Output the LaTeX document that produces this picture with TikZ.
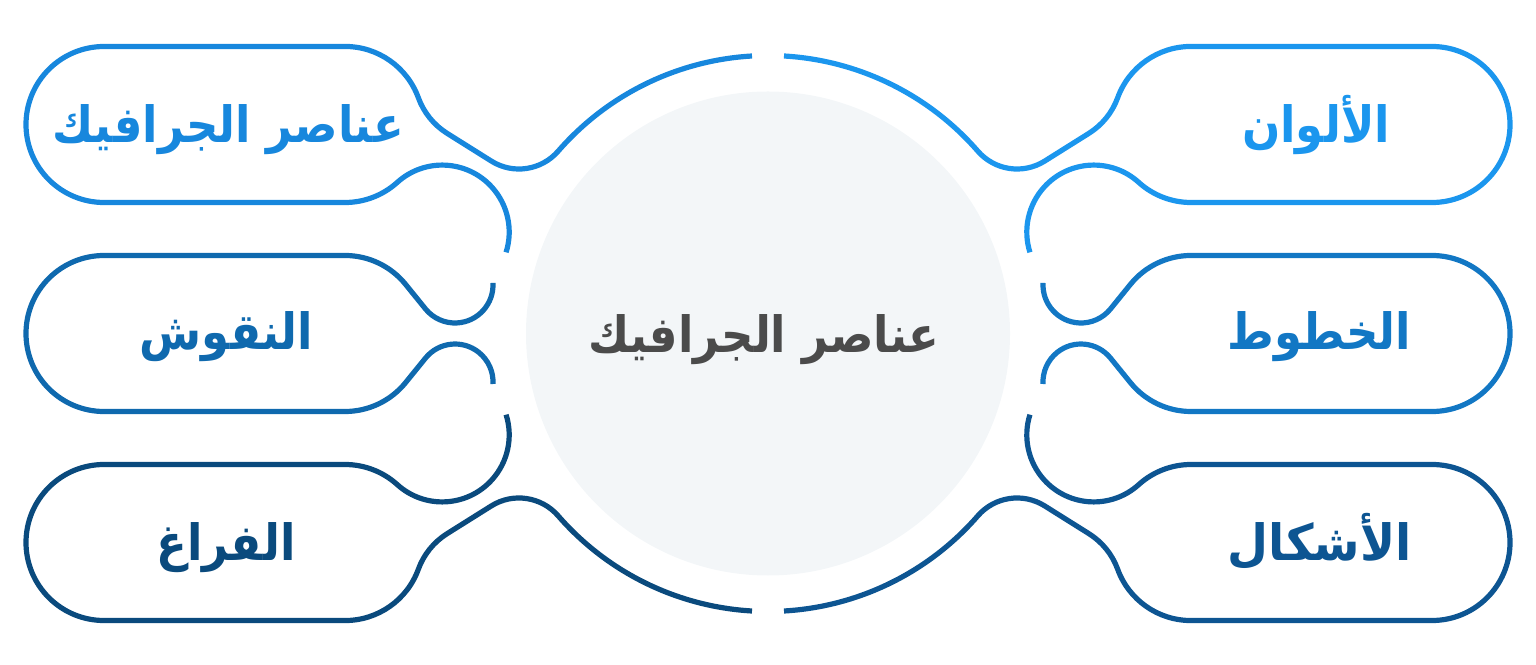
\documentclass[tikz,border=0pt]{standalone}
\usepackage{fontspec}
\newfontfamily\arabicfont[Script=Arabic]{DejaVu Sans}
\TeXXeTstate=1
\definecolor{cLa}{HTML}{1787DD}
\definecolor{cLb}{HTML}{0F69AE}
\definecolor{cLc}{HTML}{0A4A7D}
\definecolor{cRa}{HTML}{1B96EE}
\definecolor{cRb}{HTML}{1277C4}
\definecolor{cRc}{HTML}{0D5592}
\definecolor{circfill}{HTML}{F3F6F8}
\definecolor{centertext}{HTML}{4B4B4B}
\newcommand{\pillOnePath}{%
  (-16.0,277.5) arc[start angle=93.3,end angle=139,radius=278]
  arc[start angle=319,end angle=238,radius=52]
  -- (-320.8,200.1) arc[start angle=238,end angle=200,radius=70.4]
  arc[start angle=20,end angle=90,radius=78]
  -- (-664,287) arc[start angle=90,end angle=270,radius=78]
  -- (-423,131) arc[start angle=-90,end angle=-47.9,radius=78]
  arc[start angle=132.1,end angle=-17.6,radius=67]}
\newcommand{\pillTwoPath}{%
  (-275.05,50.5) arc[start angle=363,end angle=219,radius=38]
  -- (-362.4,49.1) arc[start angle=39,end angle=90,radius=78]
  -- (-664,78) arc[start angle=90,end angle=270,radius=78]
  -- (-423,-78) arc[start angle=-90,end angle=-39,radius=78]
  -- (-342.5,-24.6) arc[start angle=141,end angle=-3,radius=38]}
\tikzset{
  outline/.style={line width=2.6pt},
  label/.style={font=\arabicfont\bfseries\fontsize{25}{29}\selectfont, anchor=base, inner sep=0pt, xscale=0.9},
}
\begin{document}
\begin{tikzpicture}[x=0.5pt,y=0.5pt]
\useasboundingbox (0,0) rectangle (1536,664);
\fill[circfill] (768,330.5) circle[radius=242];
\begin{scope}[shift={(768,330.5)}]
  \draw[outline,cLa] \pillOnePath;
  \draw[outline,cLb] \pillTwoPath;
  \begin{scope}[yscale=-1]
    \draw[outline,cLc] \pillOnePath;
  \end{scope}
  \begin{scope}[xscale=-1]
    \draw[outline,cRa] \pillOnePath;
    \draw[outline,cRb] \pillTwoPath;
    \begin{scope}[yscale=-1]
      \draw[outline,cRc] \pillOnePath;
    \end{scope}
  \end{scope}
\end{scope}
\node[label,text=cLa] (l1) at (228.5,521) {\beginR عناصر الجرافيك\endR};
\node[label,text=cLb] (l2) at (226.5,314) {\beginR النقوش\endR};
\node[label,text=cLc] (l3) at (226,104) {\beginR الفراغ\endR};
\node[label,text=cRa] (r1) at (1316,521) {\beginR الألوان\endR};
\node[label,text=cRb] (r2) at (1319,314) {\beginR الخطوط\endR};
\node[label,text=cRc,xscale=1.05] (r3) at (1319.5,104) {\beginR الأشكال\endR};
\node[label,text=centertext] (c) at (764,311) {\beginR عناصر الجرافيك\endR};
\end{tikzpicture}
\end{document}
